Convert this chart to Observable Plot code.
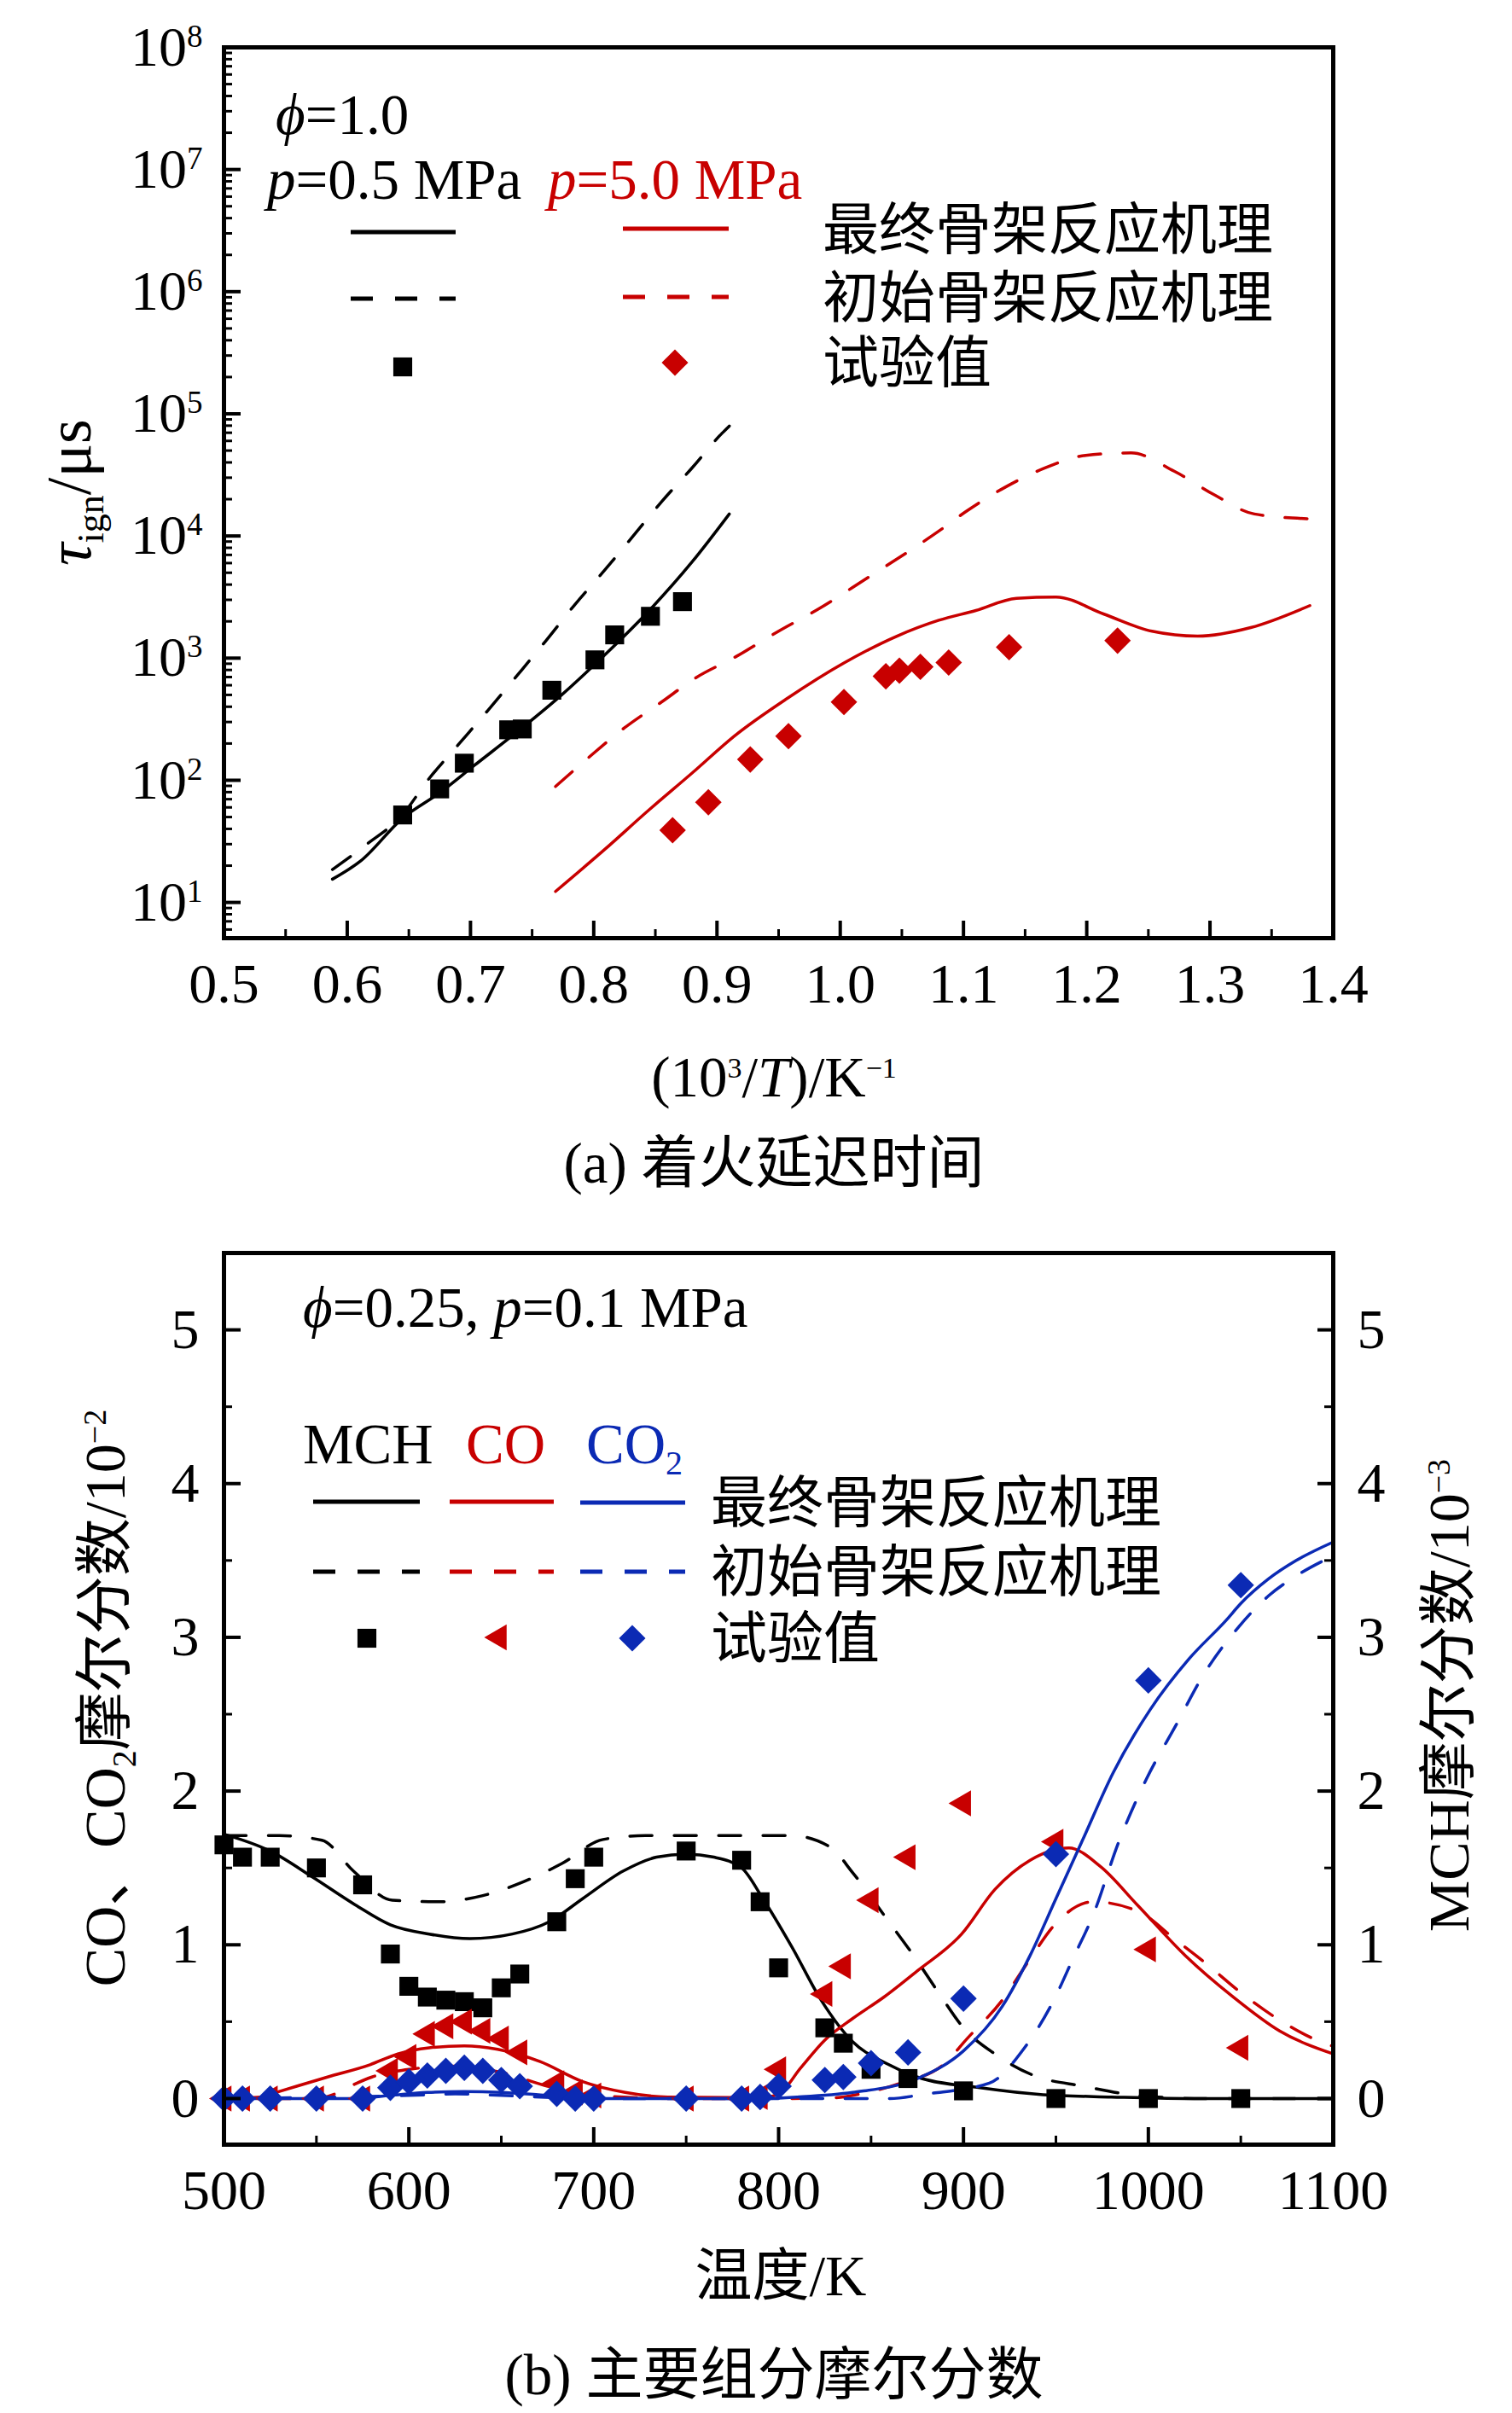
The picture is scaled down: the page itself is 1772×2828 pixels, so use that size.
<!DOCTYPE html>
<html>
<head>
<meta charset="utf-8">
<script src="https://cdn.jsdelivr.net/npm/d3@7"></script>
<script src="https://cdn.jsdelivr.net/npm/@observablehq/plot@0.6"></script>
<style>
  body { margin: 0; background: #fff; }
  #chart svg { display: block; }
</style>
</head>
<body>
<div id="chart"></div>
<script>
// ---------- (a) ignition delay ----------
const invTTicks = [0.5, 0.6, 0.7, 0.8, 0.9, 1.0, 1.1, 1.2, 1.3, 1.4];
const invTMinor = [0.55, 0.65, 0.75, 0.85, 0.95, 1.05, 1.15, 1.25, 1.35];
const tauDecades = [1e1, 1e2, 1e3, 1e4, 1e5, 1e6, 1e7, 1e8];

// p = 0.5 MPa
const invT_exp05 = [0.645, 0.675, 0.695, 0.731, 0.742, 0.766, 0.801, 0.817, 0.846, 0.872];
const tau_exp05 = [52, 85, 138, 259, 263, 546, 968, 1550, 2200, 2900];
const invT_fin05 = [0.588, 0.611, 0.645, 0.675, 0.703, 0.742, 0.773, 0.801, 0.846, 0.880, 0.910];
const tau_fin05 = [15.5, 21.9, 49, 79, 132, 269, 490, 891, 2512, 6166, 15136];
const invT_ini05 = [0.588, 0.615, 0.645, 0.666, 0.690, 0.714, 0.738, 0.761, 0.784, 0.808, 0.832, 0.855, 0.880, 0.904, 0.910];
const tau_ini05 = [18.6, 29.5, 52.5, 102, 195, 372, 724, 1380, 2690, 5130, 10000, 19050, 36300, 69200, 79400];

// p = 5.0 MPa
const invT_exp50 = [0.864, 0.893, 0.927, 0.958, 1.003, 1.037, 1.048, 1.065, 1.088, 1.137, 1.225];
const tau_exp50 = [39, 66, 148, 230, 437, 710, 790, 850, 920, 1230, 1390];
const invT_fin50 = [0.769, 0.809, 0.844, 0.880, 0.915, 0.957, 1.003, 1.046, 1.080, 1.110, 1.143, 1.175, 1.214, 1.253, 1.290, 1.333, 1.381];
const tau_fin50 = [12.3, 27.2, 56.2, 115, 234, 468, 912, 1514, 2042, 2455, 3090, 3162, 2291, 1660, 1514, 1778, 2692];
const invT_ini50 = [0.769, 0.795, 0.825, 0.855, 0.883, 0.915, 0.950, 0.982, 1.021, 1.067, 1.080, 1.102, 1.134, 1.167, 1.199, 1.236, 1.271, 1.303, 1.336, 1.381];
const tau_ini50 = [89, 151, 269, 437, 692, 1023, 1660, 2512, 4467, 8913, 10965, 15849, 25119, 36308, 45709, 47863, 33884, 21878, 15136, 13804];

// ---------- (b) mole fractions ----------
const tempTicks = [500, 600, 700, 800, 900, 1000, 1100];
const tempMinor = [550, 650, 750, 850, 950, 1050];
const fracTicks = [0, 1, 2, 3, 4, 5];
const fracMinor = [0.5, 1.5, 2.5, 3.5, 4.5];

const T_exp = [500, 510, 525, 550, 575, 590, 600, 610, 620, 630, 640, 650, 660, 680, 690, 700, 750, 780, 790, 800, 825, 835, 850, 870, 900, 950, 1000, 1050];
const mch_exp = [1.65, 1.57, 1.57, 1.50, 1.39, 0.94, 0.73, 0.66, 0.64, 0.63, 0.59, 0.72, 0.81, 1.15, 1.43, 1.57, 1.61, 1.55, 1.28, 0.85, 0.46, 0.36, 0.19, 0.13, 0.05, 0, 0, 0];
const co_exp = [0, 0, 0, 0, 0, 0.18, 0.27, 0.42, 0.47, 0.50, 0.44, 0.39, 0.30, 0.10, 0.04, 0.02, 0, 0, 0.01, 0.19, 0.68, 0.86, 1.29, 1.57, 1.92, 1.67, 0.97, 0.33];
const co2_exp = [0, 0, 0, 0, 0, 0.07, 0.11, 0.15, 0.18, 0.20, 0.18, 0.12, 0.08, 0.03, 0, 0, 0, 0, 0.01, 0.08, 0.12, 0.14, 0.23, 0.30, 0.65, 1.59, 2.72, 3.34];

const T_mchFin = [500, 525, 548, 571, 590, 611, 633, 656, 676, 694, 716, 734, 750, 765, 780, 791, 807, 823, 840, 858, 875, 909, 943, 980, 1020, 1100];
const mch_fin = [1.72, 1.61, 1.44, 1.26, 1.13, 1.07, 1.04, 1.07, 1.15, 1.30, 1.48, 1.57, 1.59, 1.57, 1.50, 1.31, 0.99, 0.64, 0.37, 0.23, 0.14, 0.07, 0.025, 0.01, 0, 0];
const T_mchIni = [500, 530, 553, 570, 591, 616, 640, 662, 683, 705, 728, 760, 807, 828, 840, 859, 873, 887, 900, 917, 938, 965, 994, 1030, 1100];
const mch_ini = [1.71, 1.71, 1.68, 1.48, 1.29, 1.28, 1.32, 1.41, 1.53, 1.685, 1.71, 1.71, 1.71, 1.635, 1.47, 1.16, 0.93, 0.68, 0.46, 0.29, 0.15, 0.08, 0.02, 0, 0];

const T_coFin = [500, 520, 530, 556, 579, 594, 611, 630, 648, 671, 694, 717, 740, 790, 800, 812, 825, 840, 857, 875, 899, 917, 936, 957, 974, 994, 1020, 1046, 1071, 1100];
const co_fin = [0, 0.01, 0.046, 0.14, 0.22, 0.29, 0.33, 0.343, 0.32, 0.24, 0.11, 0.04, 0.01, 0.005, 0.03, 0.2, 0.38, 0.52, 0.66, 0.83, 1.07, 1.36, 1.55, 1.63, 1.51, 1.26, 0.93, 0.66, 0.44, 0.29];
const T_coIni = [500, 550, 560, 570, 580, 600, 625, 650, 675, 700, 750, 800, 830, 846, 866, 890, 902, 921, 935, 950, 970, 994, 1015, 1030, 1051, 1071, 1093, 1100];
const co_ini = [0, 0, 0.03, 0.09, 0.14, 0.19, 0.21, 0.17, 0.08, 0.02, 0, 0, 0.005, 0.035, 0.10, 0.23, 0.39, 0.64, 0.89, 1.14, 1.28, 1.22, 1.03, 0.89, 0.68, 0.51, 0.37, 0.34];

const T_co2Fin = [500, 570, 590, 610, 630, 650, 670, 690, 710, 790, 810, 840, 875, 900, 921, 936, 950, 964, 981, 1001, 1022, 1042, 1050, 1065, 1080, 1100];
const co2_fin = [0, 0, 0.02, 0.04, 0.045, 0.04, 0.025, 0.01, 0, 0, 0.01, 0.04, 0.13, 0.31, 0.6, 0.93, 1.30, 1.67, 2.12, 2.53, 2.86, 3.11, 3.22, 3.38, 3.50, 3.62];
const T_co2Ini = [500, 600, 625, 650, 700, 860, 880, 914, 933, 948, 960, 970, 984, 999, 1015, 1030, 1049, 1065, 1080, 1100];
const co2_ini = [0, 0.02, 0.03, 0.02, 0, 0, 0.03, 0.10, 0.33, 0.62, 0.93, 1.19, 1.67, 2.08, 2.43, 2.76, 3.07, 3.27, 3.40, 3.53];

const RED = "#c80000";
const BLUE = "#0b2ab4";
const FONT = "'Liberation Serif', 'Times New Roman', 'Noto Sans CJK SC', serif";
const DASH = "26,26";
const FRAME_W = 1300; // plot frame width in px (both panels)

const pts = (xs, ys) => xs.map((x, i) => ({x, y: ys[i]}));

// left pointing triangle (same size rule as d3.symbolTriangle2)
const triLeft = {
  draw(context, size) {
    const s = Math.sqrt(size) * 0.6824;
    const t = s / 2, u = s * Math.sqrt(3) / 2;
    context.moveTo(-s, 0);
    context.lineTo(t, -u);
    context.lineTo(t, u);
    context.closePath();
  }
};

function curve(xs, ys, color, dashed) {
  return Plot.line(pts(xs, ys), {
    x: "x", y: "y", stroke: color, strokeWidth: 3.5,
    strokeDasharray: dashed ? DASH : null, curve: "monotone-x"
  });
}

// inward tick marks, drawn as short ticks at the frame edge
const inX = (values, len, w, frameH) =>
  Plot.tickX(values, {x: d => d, stroke: "black", strokeWidth: w, insetTop: frameH - len});
const inYLeft = (values, len, w) =>
  Plot.tickY(values, {y: d => d, stroke: "black", strokeWidth: w, insetRight: FRAME_W - len});
const inYRight = (values, len, w) =>
  Plot.tickY(values, {y: d => d, stroke: "black", strokeWidth: w, insetLeft: FRAME_W - len});

// labels only
const labelsX = (values, pad, fmt) =>
  Plot.axisX({ticks: values, tickSize: 0, tickPadding: pad, tickFormat: fmt, label: null});
const labelsY = (values, pad, fmt, anchor = "left") =>
  Plot.axisY({anchor, ticks: values, tickSize: 0, tickPadding: pad, tickFormat: fmt, label: null});

// text with italic / sub / sup pieces
function richText(svg, x, y, parts, opt = {}) {
  const t = svg.append("text")
    .attr("transform", `translate(${x},${y})` + (opt.rotate ? ` rotate(${opt.rotate})` : ""))
    .attr("text-anchor", opt.anchor || "start")
    .attr("font-family", FONT)
    .attr("font-size", opt.size || 67)
    .attr("fill", opt.fill || "black");
  let shift = 0;
  for (const p of parts) {
    const s = t.append("tspan").text(p.t);
    const target = p.sub ? (p.shift || 13) : p.sup ? -(p.shift || 22) : 0;
    if (target !== shift) { s.attr("dy", target - shift); shift = target; }
    if (p.sub || p.sup) s.attr("font-size", p.size || 40);
    if (p.it) s.attr("font-style", "italic");
    if (p.fill) s.attr("fill", p.fill);
    if (p.fs) s.attr("font-size", p.fs);
  }
  return t;
}

function legendLine(svg, x1, x2, y, color, dashed) {
  svg.append("line")
    .attr("x1", x1).attr("x2", x2).attr("y1", y).attr("y2", y)
    .attr("stroke", color).attr("stroke-width", 5)
    .attr("stroke-dasharray", dashed ? DASH : null);
}
function legendSymbol(svg, x, y, type, r, color) {
  svg.append("path")
    .attr("transform", `translate(${x},${y})`)
    .attr("d", d3.symbol(type, Math.PI * r * r)())
    .attr("fill", color);
}

const tauMinor = tauDecades
  .flatMap(d => [2, 3, 4, 5, 6, 7, 8, 9].map(k => k * d / 10))
  .filter(v => v >= 5.1 && v <= 1e8);

// ---------- chart (a) ----------
const chartA = Plot.plot({
  width: 1772,
  height: 1420,
  marginLeft: 262,
  marginRight: 210,
  marginTop: 55,
  marginBottom: 321,
  style: {fontFamily: FONT, fontSize: "66px", color: "black", background: "white"},
  x: {domain: [0.5, 1.4]},
  y: {type: "log", domain: [5.1, 1e8]},
  marks: [
    curve(invT_ini05, tau_ini05, "black", true),
    curve(invT_fin05, tau_fin05, "black", false),
    curve(invT_ini50, tau_ini50, RED, true),
    curve(invT_fin50, tau_fin50, RED, false),
    Plot.dot(pts(invT_exp05, tau_exp05), {x: "x", y: "y", symbol: "square", r: 12.5, fill: "black"}),
    Plot.dot(pts(invT_exp50, tau_exp50), {x: "x", y: "y", symbol: "diamond2", r: 14, fill: RED}),
    inX(invTTicks, 20, 4, 1044),
    inX(invTMinor, 10, 3, 1044),
    inYLeft(tauDecades, 20, 4),
    inYLeft(tauMinor, 10, 3),
    labelsX(invTTicks, 29, d3.format(".1f")),
    labelsY(tauDecades, 25, d => "10^" + Math.round(Math.log10(d))),
    Plot.frame({stroke: "black", strokeWidth: 5})
  ]
});

// ---------- chart (b) ----------
const chartB = Plot.plot({
  width: 1772,
  height: 1408,
  marginLeft: 262,
  marginRight: 210,
  marginTop: 48,
  marginBottom: 315,
  style: {fontFamily: FONT, fontSize: "66px", color: "black", background: "white"},
  x: {domain: [500, 1100]},
  y: {domain: [-0.3, 5.5]},
  marks: [
    curve(T_mchIni, mch_ini, "black", true),
    curve(T_mchFin, mch_fin, "black", false),
    curve(T_coIni, co_ini, RED, true),
    curve(T_coFin, co_fin, RED, false),
    curve(T_co2Ini, co2_ini, BLUE, true),
    curve(T_co2Fin, co2_fin, BLUE, false),
    Plot.dot(pts(T_exp, mch_exp), {x: "x", y: "y", symbol: "square", r: 12.5, fill: "black"}),
    Plot.dot(pts(T_exp, co_exp), {x: "x", y: "y", symbol: triLeft, r: 14.5, fill: RED}),
    Plot.dot(pts(T_exp, co2_exp), {x: "x", y: "y", symbol: "diamond2", r: 14, fill: BLUE}),
    inX(tempTicks, 20, 4, 1045),
    inX(tempMinor, 10, 3, 1045),
    inYLeft(fracTicks, 20, 4),
    inYLeft(fracMinor, 10, 3),
    inYRight(fracTicks, 18, 4),
    inYRight(fracMinor, 10, 3),
    labelsX(tempTicks, 29, d3.format("d")),
    labelsY(fracTicks, 29, d3.format("d")),
    labelsY(fracTicks, 28, d3.format("d"), "right"),
    Plot.frame({stroke: "black", strokeWidth: 5})
  ]
});

const chart = d3.select("#chart");
chart.append(() => chartA);
chart.append(() => chartB);

// log tick labels: 10 with a raised exponent
d3.select(chartA).selectAll("text").each(function() {
  const m = this.textContent.match(/^10\^(-?\d+)$/);
  if (!m) return;
  const el = d3.select(this);
  el.text(null);
  el.append("tspan").text("10");
  el.append("tspan").attr("dy", -22).attr("font-size", 37).text(m[1]);
});

// ---------- annotations (a) ----------
const svgA = d3.select(chartA);
richText(svgA, 323, 157, [{t: "ϕ", it: true}, {t: "=1.0"}]);
richText(svgA, 313, 233, [{t: "p", it: true}, {t: "=0.5 MPa"}]);
richText(svgA, 642, 233, [{t: "p", it: true}, {t: "=5.0 MPa"}], {fill: RED});
legendLine(svgA, 411, 534, 272, "black", false);
legendLine(svgA, 730, 854, 268, RED, false);
legendLine(svgA, 411, 534, 350, "black", true);
legendLine(svgA, 730, 854, 348, RED, true);
legendSymbol(svgA, 472, 430, d3.symbolSquare, 12.5, "black");
legendSymbol(svgA, 791, 425, d3.symbolDiamond2, 14, RED);
richText(svgA, 964, 292, [{t: "最终骨架反应机理"}], {size: 66});
richText(svgA, 964, 372, [{t: "初始骨架反应机理"}], {size: 66});
richText(svgA, 964, 448, [{t: "试验值"}], {size: 66});
richText(svgA, 106, 577, [{t: "τ", it: true}, {t: "ign", sub: true, size: 44, shift: 15}, {t: "/μs"}], {anchor: "middle", rotate: -90, size: 74});
richText(svgA, 907, 1285, [{t: "(10"}, {t: "3", sup: true, size: 34}, {t: "/"}, {t: "T", it: true}, {t: ")/K"}, {t: "−1", sup: true, size: 34}], {anchor: "middle"});
richText(svgA, 907, 1386, [{t: "(a) 着火延迟时间"}], {anchor: "middle"});

// ---------- annotations (b) ----------
const svgB = d3.select(chartB);
richText(svgB, 355, 135, [{t: "ϕ", it: true}, {t: "=0.25, "}, {t: "p", it: true}, {t: "=0.1 MPa"}]);
richText(svgB, 355, 295, [{t: "MCH"}]);
richText(svgB, 546, 295, [{t: "CO"}], {fill: RED});
richText(svgB, 687, 295, [{t: "CO"}, {t: "2", sub: true}], {fill: BLUE});
legendLine(svgB, 367, 492, 340, "black", false);
legendLine(svgB, 527, 649, 340, RED, false);
legendLine(svgB, 680, 803, 341, BLUE, false);
legendLine(svgB, 367, 492, 422, "black", true);
legendLine(svgB, 527, 649, 422, RED, true);
legendLine(svgB, 680, 803, 422, BLUE, true);
legendSymbol(svgB, 430, 500, d3.symbolSquare, 12.5, "black");
legendSymbol(svgB, 585, 499, triLeft, 14.5, RED);
legendSymbol(svgB, 741, 500, d3.symbolDiamond2, 14, BLUE);
richText(svgB, 833, 364, [{t: "最终骨架反应机理"}], {size: 66});
richText(svgB, 833, 445, [{t: "初始骨架反应机理"}], {size: 66});
richText(svgB, 833, 523, [{t: "试验值"}], {size: 66});
richText(svgB, 146, 570, [{t: "CO、CO"}, {t: "2", sub: true}, {t: "摩尔分数/10"}, {t: "−2", sup: true, size: 38}], {anchor: "middle", rotate: -90, size: 68});
richText(svgB, 1721, 567, [{t: "MCH摩尔分数/10"}, {t: "−3", sup: true, size: 38}], {anchor: "middle", rotate: -90, size: 68});
richText(svgB, 915, 1270, [{t: "温度/K"}], {anchor: "middle"});
richText(svgB, 907, 1386, [{t: "(b) 主要组分摩尔分数"}], {anchor: "middle"});
</script>
</body>
</html>
